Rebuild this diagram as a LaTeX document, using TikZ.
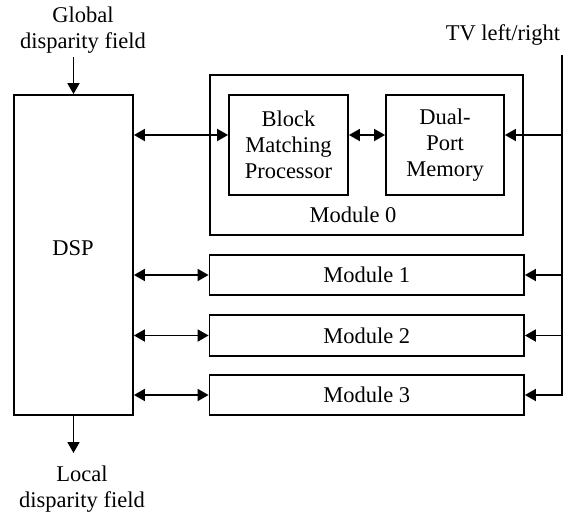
\documentclass[tikz,border=0pt]{standalone}
\usepackage{fontspec}
\setmainfont{Liberation Serif}
\usetikzlibrary{arrows.meta}
\begin{document}
\begin{tikzpicture}[x=1pt,y=-1pt,
  box/.style={draw, line width=1.8pt, inner sep=0pt},
  lbl/.style={inner sep=0pt, align=center, font=\fontsize{22.5}{26}\selectfont},
  conn/.style={line width=1.8pt, -{Triangle[length=11pt,width=12pt]}},
  bconn/.style={line width=1.8pt, {Triangle[length=11pt,width=12pt]}-{Triangle[length=11pt,width=12pt]}}]
\useasboundingbox (0,0) rectangle (573,517);
\node[box, minimum width=119pt, minimum height=320pt] (DSP) at (73.5,255) {};
\node[lbl] (dspl) at (73,248) {DSP};
\node[box, minimum width=313pt, minimum height=160pt] (M0) at (366.5,155) {};
\node[lbl] (m0l) at (353,215) {Module 0};
\node[box, lbl, minimum width=119pt, minimum height=100pt] (BMP) at (288.5,145) {Block\\Matching\\Processor};
\node[box, lbl, minimum width=118pt, minimum height=100pt] (DPM) at (445,145) {Dual-\\Port\\Memory};
\node[box, lbl, minimum width=314.5pt, minimum height=40pt] (M1) at (366.75,275) {Module 1};
\node[box, lbl, minimum width=314.5pt, minimum height=41pt] (M2) at (366.75,335.5) {Module 2};
\node[box, lbl, minimum width=314.5pt, minimum height=40pt] (M3) at (366.75,395) {Module 3};
\node[lbl] (glob) at (83,30) {Global\\disparity field};
\node[lbl] (loc) at (82,489) {Local\\disparity field};
\node[lbl] (tv) at (503,35) {TV left/right};
\coordinate (gtop) at (73.5,57);
\coordinate (lbot) at (73.5,453);
\coordinate (tvtop) at (562,55);
\draw[conn] (gtop) -- (DSP.north);
\draw[conn] (DSP.south) -- (lbot);
\draw[bconn] ([yshift=10pt]DSP.east |- BMP.west) -- ([yshift=10pt]BMP.west);
\draw[bconn] ([yshift=10pt]BMP.east) -- ([yshift=10pt]DPM.west);
\draw[bconn] (DSP.east |- M1.west) -- (M1.west);
\draw[bconn] (DSP.east |- M2.west) -- (M2.west);
\draw[bconn] (DSP.east |- M3.west) -- (M3.west);
\draw[conn] (tvtop) |- (M3.east);
\draw[conn] ([yshift=10pt]tvtop |- DPM.east) -- ([yshift=10pt]DPM.east);
\draw[conn] (tvtop |- M1.east) -- (M1.east);
\draw[conn] (tvtop |- M2.east) -- (M2.east);
\end{tikzpicture}
\end{document}
